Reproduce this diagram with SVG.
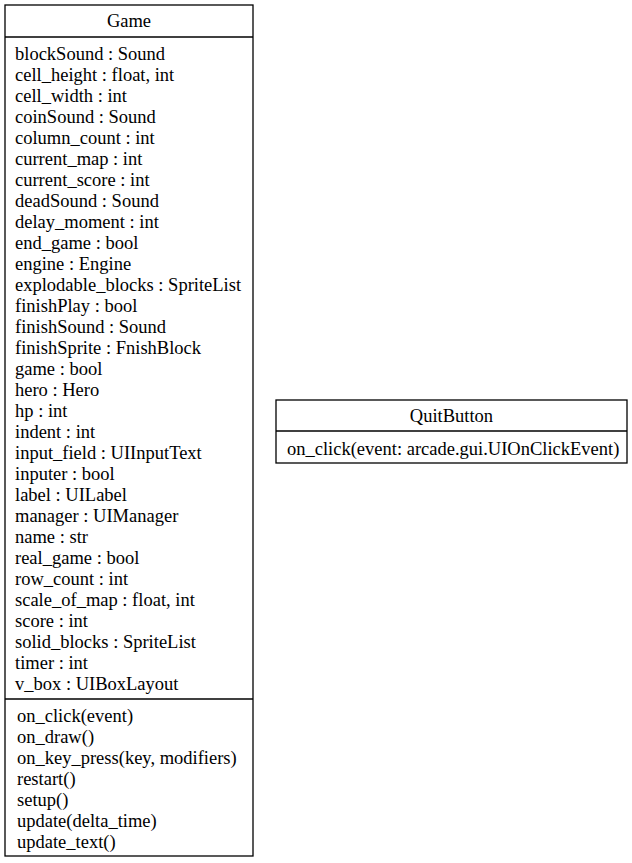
<svg xmlns="http://www.w3.org/2000/svg" width="632" height="863" viewBox="0 0 632 863" font-family="'Liberation Serif', 'Times New Roman', 'DejaVu Serif', serif" font-size="18.5">
<style>
.box{fill:#fff;stroke:#000;stroke-width:1.3}
.ln{stroke:#000;stroke-width:1.3}
text{font-family:'Liberation Serif','Times New Roman',serif;font-size:18.5px;fill:#000}
.c{text-anchor:middle}
</style>
<rect width="632" height="863" fill="#fff"/>
<g id="Game" font-family="Liberation Serif">
<rect class="box" x="5" y="5" width="248" height="851"/>
<line class="ln" x1="5" y1="37" x2="253" y2="37"/>
<line class="ln" x1="5" y1="699" x2="253" y2="699"/>
<text class="c" x="129" y="27">Game</text>
<text x="15" y="60">blockSound : Sound</text>
<text x="15" y="81">cell_height : float, int</text>
<text x="15" y="102">cell_width : int</text>
<text x="15" y="123">coinSound : Sound</text>
<text x="15" y="144">column_count : int</text>
<text x="15" y="165">current_map : int</text>
<text x="15" y="186">current_score : int</text>
<text x="15" y="207">deadSound : Sound</text>
<text x="15" y="228">delay_moment : int</text>
<text x="15" y="249">end_game : bool</text>
<text x="15" y="270">engine : Engine</text>
<text x="15" y="291">explodable_blocks : SpriteList</text>
<text x="15" y="312">finishPlay : bool</text>
<text x="15" y="333">finishSound : Sound</text>
<text x="15" y="354">finishSprite : FnishBlock</text>
<text x="15" y="375">game : bool</text>
<text x="15" y="396">hero : Hero</text>
<text x="15" y="417">hp : int</text>
<text x="15" y="438">indent : int</text>
<text x="15" y="459">input_field : UIInputText</text>
<text x="15" y="480">inputer : bool</text>
<text x="15" y="501">label : UILabel</text>
<text x="15" y="522">manager : UIManager</text>
<text x="15" y="543">name : str</text>
<text x="15" y="564">real_game : bool</text>
<text x="15" y="585">row_count : int</text>
<text x="15" y="606">scale_of_map : float, int</text>
<text x="15" y="627">score : int</text>
<text x="15" y="648">solid_blocks : SpriteList</text>
<text x="15" y="669">timer : int</text>
<text x="15" y="690">v_box : UIBoxLayout</text>
<text x="17" y="722">on_click(event)</text>
<text x="17" y="743">on_draw()</text>
<text x="17" y="764">on_key_press(key, modifiers)</text>
<text x="17" y="785">restart()</text>
<text x="17" y="806">setup()</text>
<text x="17" y="827">update(delta_time)</text>
<text x="17" y="848">update_text()</text>
</g>
<g id="QuitButton" font-family="Liberation Serif">
<rect class="box" x="276" y="400" width="351" height="63"/>
<line class="ln" x1="276" y1="431" x2="627" y2="431"/>
<text class="c" x="451.5" y="422">QuitButton</text>
<text x="287" y="455">on_click(event: arcade.gui.UIOnClickEvent)</text>
</g>
<g id="connectors"></g>
</svg>
